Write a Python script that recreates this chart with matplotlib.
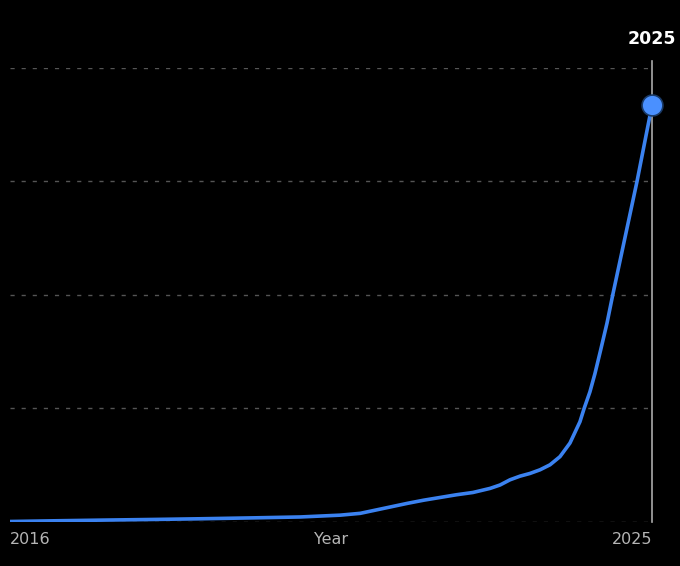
import numpy as np
import matplotlib.pyplot as plt

# values (year, value on a 0-100 scale)
years = [2016.0, 2016.6, 2017.26, 2018.0, 2018.66, 2019.4, 2020.07, 2020.63,
         2020.91, 2021.09, 2021.33, 2021.57, 2021.8, 2022.03, 2022.26, 2022.49,
         2022.73, 2022.87, 2023.01, 2023.15, 2023.29, 2023.43, 2023.57, 2023.71,
         2023.85, 2023.99, 2024.05, 2024.13, 2024.2, 2024.28, 2024.37, 2024.45,
         2024.62, 2024.79, 2025.0]
values = [0.0, 0.15, 0.3, 0.45, 0.6, 0.8, 1.0, 1.4,
          1.8, 2.4, 3.2, 4.0, 4.7, 5.3, 5.9, 6.4,
          7.3, 8.05, 9.2, 10.0, 10.6, 11.4, 12.5, 14.3,
          17.3, 22.0, 25.0, 28.6, 32.6, 37.8, 43.8, 50.0,
          62.5, 75.0, 91.8]
grid_vals = [0, 25, 50, 75, 100]
xtick_pos = [2016, 2020.5, 2025]
xtick_labels = ['2016', 'Year', '2025']

line_col = '#3b82f0'

fig = plt.figure(figsize=(6.8, 5.66), dpi=100, facecolor='black')
ax = fig.add_axes([10/680, 1 - 521.5/566, 642/680, (521.5 - 68)/566])
ax.set_facecolor('black')

for g in grid_vals:
    ax.axhline(g, color='#555555', lw=1, ls=(0, (3, 5)), zorder=1)

ax.plot(years, values, color=line_col, lw=2.6, solid_capstyle='round',
        solid_joinstyle='round', zorder=3)

# selection rule at the last point
ax.plot([2025, 2025], [0, 101.5], color='#aaaaaa', lw=1.2, clip_on=False, zorder=2)
ax.plot([years[-1]], [values[-1]], 'o', ms=15, mfc='#4a90ff', mec='#1a3a66',
        mew=1.2, clip_on=False, zorder=4)
ax.text(2025, 106.5, '2025', color='white', fontsize=12.5, fontweight='bold',
        ha='center', va='center', clip_on=False)

ax.set_xlim(2016, 2025)
ax.set_ylim(0, 100)
for s in ax.spines.values():
    s.set_visible(False)
ax.set_yticks([])
ax.set_xticks([])

for pos, lab, ha in zip(xtick_pos, xtick_labels, ['left', 'center', 'right']):
    ax.text(pos, -4, lab, color='#b5b5b5', fontsize=11.5, ha=ha, va='center',
            clip_on=False)

fig.savefig('out.png', dpi=100, facecolor='black')
